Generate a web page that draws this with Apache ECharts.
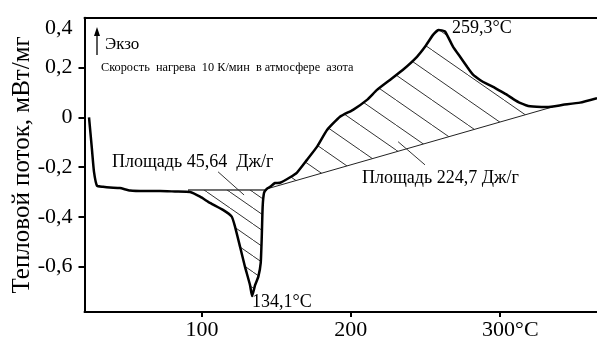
<!DOCTYPE html>
<html><head><meta charset="utf-8">
<script src="https://cdn.jsdelivr.net/npm/echarts@6/dist/echarts.min.js"></script>
<style>html,body{margin:0;padding:0;background:#fff}#c{width:597px;height:342px}</style>
</head><body><div id="c"></div>
<script>
// DSC curve: temperature (°C) and heat flow (mW/mg)
const temps = [24.0,26.0,27.35,29.4,33.4,38.1,44.8,51.6,61.7,71.8,81.8,92.0,98.7,105.4,114.1,120.0,122.2,125.6,128.9,132.3,133.7,135.7,137.9,139.5,140.2,140.8,141.7,143.4,145.8,149.1,152.5,159.0,163.9,170.6,177.3,184.1,192.8,201.6,211.0,217.7,226.4,235.2,244.6,250.0,255.4,259.2,263.4,268.8,273.6,278.3,282.3,287.0,291.7,295.8,300.5,305.2,309.2,313.9,320.7,332.1,342.9,354.3,365.7];
const flow  = [0.0,-0.131,-0.219,-0.275,-0.279,-0.282,-0.284,-0.294,-0.296,-0.296,-0.298,-0.300,-0.319,-0.344,-0.372,-0.399,-0.439,-0.520,-0.600,-0.674,-0.718,-0.674,-0.640,-0.585,-0.480,-0.359,-0.304,-0.288,-0.279,-0.264,-0.263,-0.242,-0.222,-0.171,-0.119,-0.051,0.002,0.030,0.070,0.110,0.150,0.191,0.243,0.283,0.331,0.351,0.345,0.284,0.243,0.203,0.171,0.150,0.134,0.122,0.106,0.090,0.074,0.058,0.044,0.041,0.050,0.059,0.077];
// integration baselines
const base1 = [[90.6,-0.292],[143.4,-0.292]];
const base2 = [[143.4,-0.288],[336.1,0.042]];
// leader lines of the area labels
const leader1 = [[110.8,-0.219],[128.3,-0.312]];
const leader2 = [[231.9,-0.098],[250.0,-0.191]];
const xTicks = [100,200,300];
const yTicks = [-0.6,-0.4,-0.2,0,0.2,0.4];
const yName = 'Тепловой поток, мВт/мг';
const peak1Label = '134,1°C';
const peak2Label = '259,3°C';
const area1Label = 'Площадь 45,64  Дж/г';
const area2Label = 'Площадь 224,7 Дж/г';
const exoLabel = 'Экзо';
const condLabel = 'Скорость  нагрева  10 К/мин  в атмосфере  азота';

const FONT = '"Liberation Serif","Times New Roman",serif';
const curve = temps.map((t,i)=>[t,flow[i]]);
function region(base){
  const a = base[0][0], b = base[1][0];
  return [base[0]].concat(curve.filter(p=>p[0]>a && p[0]<b)).concat([base[1]]);
}
const regions = [region(base1), region(base2)];
function makeHatch(w,h){
  const c = document.createElement('canvas');
  c.width = w; c.height = h;
  const g = c.getContext('2d');
  g.strokeStyle = '#333'; g.lineWidth = 1;
  [-w,0,w].forEach(o=>{ g.beginPath(); g.moveTo(o,0); g.lineTo(o+w,h); g.stroke(); });
  return c;
}
const hatches = [makeHatch(23,16), makeHatch(36,25)];

function fmt(v){ return String(v).replace('.',','); }

const chart = echarts.init(document.getElementById('c'), null, {renderer:'canvas'});
chart.setOption({
  animation:false,
  backgroundColor:'#fff',
  grid:{left:84.5, top:17.7, right:0, bottom:30, containLabel:false, outerBoundsMode:'none'},
  xAxis:[{
    type:'value', min:20.96, max:365.7,
    splitLine:{show:false},
    axisLine:{onZero:false, lineStyle:{color:'#000', width:2}},
    axisTick:{show:true, length:5, lineStyle:{color:'#000', width:2}, customValues:xTicks},
    axisLabel:{customValues:xTicks, margin:7, color:'#000',
      formatter:v=> v===300 ? '{pad|}{n|300°C}' : '{n|'+v+'}',
      rich:{n:{fontSize:22, fontFamily:FONT, color:'#000'}, pad:{width:22}}}
  },{
    type:'value', position:'top', min:20.96, max:365.7,
    splitLine:{show:false},
    axisLine:{show:true, onZero:false, lineStyle:{color:'#000', width:2}},
    axisTick:{show:false}, axisLabel:{show:false}
  }],
  yAxis:{
    type:'value', min:-0.782, max:0.4,
    splitLine:{show:false},
    name:yName, nameLocation:'middle', nameGap:50, nameRotate:90, nameMoveOverlap:false,
    nameTextStyle:{fontSize:25, fontFamily:FONT, color:'#000'},
    axisLine:{onZero:false, lineStyle:{color:'#000', width:2}},
    axisTick:{show:true, length:6, lineStyle:{color:'#000', width:2}, customValues:yTicks.slice(0,5)},
    axisLabel:{customValues:yTicks, margin:12, fontSize:22, fontFamily:FONT, color:'#000',
      formatter:fmt, verticalAlignMaxLabel:'top'}
  },
  series:[
    {type:'custom', coordinateSystem:'cartesian2d', data:[[100,0]], z:1, silent:true,
      renderItem:(p,api)=>({type:'polygon', shape:{points:regions[0].map(q=>api.coord(q))},
        style:{fill:{image:hatches[0], repeat:'repeat'}, stroke:'#333', lineWidth:0.6}})},
    {type:'custom', coordinateSystem:'cartesian2d', data:[[200,0]], z:1, silent:true,
      renderItem:(p,api)=>({type:'polygon', shape:{points:regions[1].map(q=>api.coord(q))},
        style:{fill:{image:hatches[1], repeat:'repeat'}, stroke:null}})},
    {type:'line', data:base1, showSymbol:false, lineStyle:{color:'#222', width:1}, z:2},
    {type:'line', data:base2, showSymbol:false, lineStyle:{color:'#222', width:1}, z:2},
    {type:'line', data:leader1, showSymbol:false, lineStyle:{color:'#333', width:1}, z:2},
    {type:'line', data:leader2, showSymbol:false, lineStyle:{color:'#333', width:1}, z:2},
    {type:'line', data:curve, showSymbol:false, smooth:0.15, lineStyle:{color:'#000', width:2.5}, z:3}
  ],
  graphic:[
    {type:'line', shape:{x1:97, y1:55, x2:97, y2:31}, style:{stroke:'#000', lineWidth:1.3}},
    {type:'polygon', shape:{points:[[97,27],[94,36],[100,36]]}, style:{fill:'#000'}},
    {type:'text', x:105, y:45, style:{text:exoLabel, fontSize:17, fontFamily:FONT, fill:'#000', align:'left', verticalAlign:'middle'}},
    {type:'text', x:101, y:68, style:{text:condLabel, fontSize:12.3, fontFamily:FONT, fill:'#000', align:'left', verticalAlign:'middle'}},
    {type:'text', x:452, y:28, style:{text:peak2Label, fontSize:18, fontFamily:FONT, fill:'#000', align:'left', verticalAlign:'middle'}},
    {type:'text', x:252, y:302, style:{text:peak1Label, fontSize:18, fontFamily:FONT, fill:'#000', align:'left', verticalAlign:'middle'}},
    {type:'text', x:112, y:162, style:{text:area1Label, fontSize:18, fontFamily:FONT, fill:'#000', align:'left', verticalAlign:'middle'}},
    {type:'text', x:362, y:178, style:{text:area2Label, fontSize:18, fontFamily:FONT, fill:'#000', align:'left', verticalAlign:'middle'}}
  ]
});
</script></body></html>
